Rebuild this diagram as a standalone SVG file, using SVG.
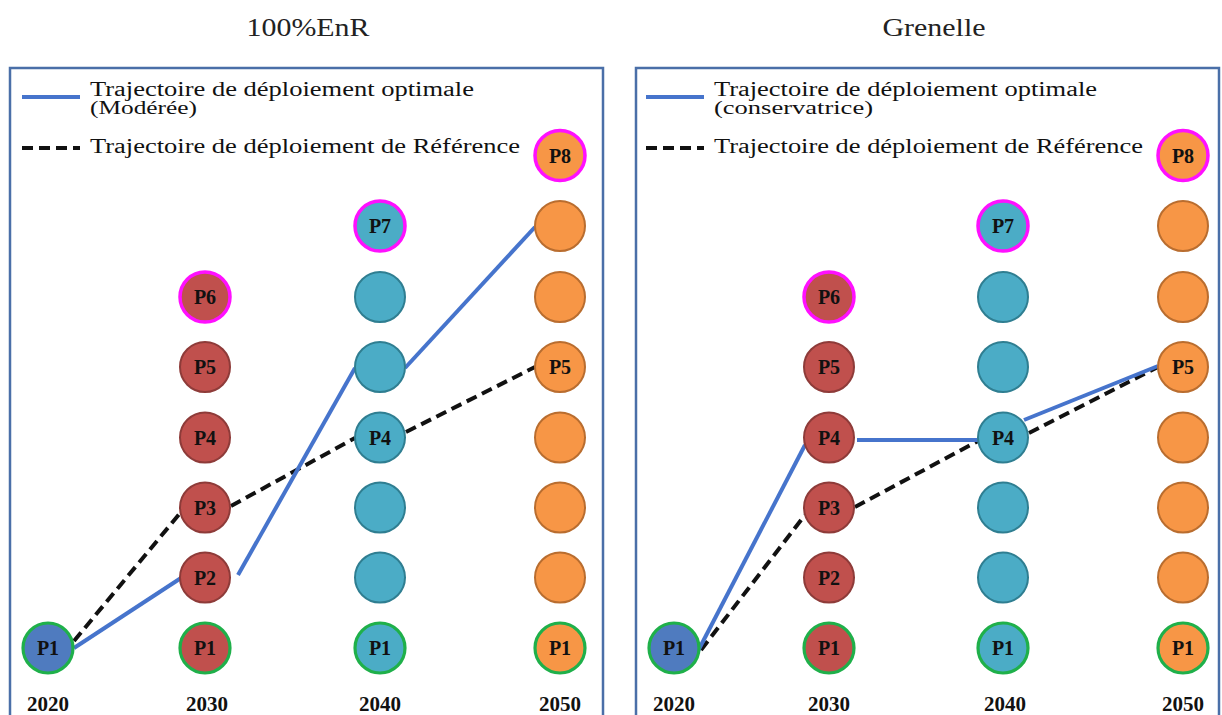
<svg xmlns="http://www.w3.org/2000/svg" width="1222" height="715" viewBox="0 0 1222 715">
<style>
.title{font-family:"Liberation Serif","DejaVu Serif",serif;font-size:25px;fill:#222;text-anchor:middle}
.leg{font-family:"Liberation Serif","DejaVu Serif",serif;font-size:20px;fill:#111}
.leg2{font-family:"Liberation Serif","DejaVu Serif",serif;font-size:18px;fill:#111}
.yr{font-family:"Liberation Serif","DejaVu Serif",serif;font-size:21px;font-weight:bold;fill:#111;text-anchor:middle}
.lbl{font-family:"Liberation Serif","DejaVu Serif",serif;font-size:20px;font-weight:bold;fill:#111;text-anchor:middle}
.panel{fill:#fff;stroke:#4a6fa8;stroke-width:2.5}
.blue{fill:#4f7bbf}
.red{fill:#c0504d;stroke:#8e3b39;stroke-width:2}
.teal{fill:#4bacc6;stroke:#2f7e91;stroke-width:2}
.orange{fill:#f79646;stroke:#b96d2f;stroke-width:2}
.g{stroke:#1fb04a;stroke-width:3.2}
.m{stroke:#ff10ff;stroke-width:3.5}
.opt{fill:none;stroke:#4674cc;stroke-width:4}
.ref{fill:none;stroke:#111;stroke-width:4;stroke-dasharray:11 6}
</style>

<text class="title" x="308" y="36" textLength="123" lengthAdjust="spacingAndGlyphs">100%EnR</text>
<text class="title" x="934" y="36" textLength="103" lengthAdjust="spacingAndGlyphs">Grenelle</text>

<rect class="panel" x="10" y="68" width="593" height="670"/>
<rect class="panel" x="636" y="68" width="583" height="670"/>

<g id="legend-left">
<line class="opt" x1="22" y1="97" x2="80" y2="97"/>
<text class="leg" x="90" y="96" textLength="384" lengthAdjust="spacingAndGlyphs">Trajectoire de déploiement optimale</text>
<text class="leg2" x="90" y="114" textLength="107" lengthAdjust="spacingAndGlyphs">(Modérée)</text>
<line class="ref" x1="22" y1="148" x2="80" y2="148" stroke-dasharray="13 5"/>
<text class="leg" x="90" y="153" textLength="430" lengthAdjust="spacingAndGlyphs">Trajectoire de déploiement de Référence</text>
</g>
<g id="legend-right">
<line class="opt" x1="646" y1="97" x2="704" y2="97"/>
<text class="leg" x="714" y="96" textLength="383" lengthAdjust="spacingAndGlyphs">Trajectoire de déploiement optimale</text>
<text class="leg2" x="714" y="114" textLength="159" lengthAdjust="spacingAndGlyphs">(conservatrice)</text>
<line class="ref" x1="646" y1="148" x2="704" y2="148" stroke-dasharray="13 5"/>
<text class="leg" x="714" y="153" textLength="429" lengthAdjust="spacingAndGlyphs">Trajectoire de déploiement de Référence</text>
</g>

<g id="connectors">
<polyline class="ref" points="74,641 181,512"/>
<polyline class="ref" points="231,506 355,438"/>
<polyline class="ref" points="406,432 535,367"/>
<polyline class="opt" points="74,648 181,578"/>
<polyline class="opt" points="238,575 355,368"/>
<polyline class="opt" points="405,368 535,227"/>

<polyline class="ref" points="701,650 805,515"/>
<polyline class="ref" points="855,507 978,441"/>
<polyline class="ref" points="1029,433 1158,367"/>
<polyline class="opt" points="698,651 805,445"/>
<polyline class="opt" points="857,440 978,440"/>
<polyline class="opt" points="1024,420 1158,366"/>
</g>

<!-- Left panel nodes -->
<g id="L2020-P1"><circle class="blue g" cx="48" cy="648" r="25"/><text class="lbl" x="48" y="655">P1</text></g>

<g id="L2030-P1"><circle class="red g" cx="205" cy="648" r="25"/><text class="lbl" x="205" y="655">P1</text></g>
<g id="L2030-P2"><circle class="red" cx="205" cy="577.5" r="25"/><text class="lbl" x="205" y="584.5">P2</text></g>
<g id="L2030-P3"><circle class="red" cx="205" cy="507.5" r="25"/><text class="lbl" x="205" y="514.5">P3</text></g>
<g id="L2030-P4"><circle class="red" cx="205" cy="437.5" r="25"/><text class="lbl" x="205" y="444.5">P4</text></g>
<g id="L2030-P5"><circle class="red" cx="205" cy="367" r="25"/><text class="lbl" x="205" y="374">P5</text></g>
<g id="L2030-P6"><circle class="red m" cx="205" cy="297" r="25"/><text class="lbl" x="205" y="304">P6</text></g>

<g id="L2040-P1"><circle class="teal g" cx="380" cy="648" r="25"/><text class="lbl" x="380" y="655">P1</text></g>
<g id="L2040-a"><circle class="teal" cx="380" cy="577.5" r="25"/></g>
<g id="L2040-b"><circle class="teal" cx="380" cy="507.5" r="25"/></g>
<g id="L2040-P4"><circle class="teal" cx="380" cy="437.5" r="25"/><text class="lbl" x="380" y="444.5">P4</text></g>
<g id="L2040-c"><circle class="teal" cx="380" cy="367" r="25"/></g>
<g id="L2040-d"><circle class="teal" cx="380" cy="297" r="25"/></g>
<g id="L2040-P7"><circle class="teal m" cx="380" cy="226" r="25"/><text class="lbl" x="380" y="233">P7</text></g>

<g id="L2050-P1"><circle class="orange g" cx="560" cy="648" r="25"/><text class="lbl" x="560" y="655">P1</text></g>
<g id="L2050-a"><circle class="orange" cx="560" cy="577.5" r="25"/></g>
<g id="L2050-b"><circle class="orange" cx="560" cy="507.5" r="25"/></g>
<g id="L2050-c"><circle class="orange" cx="560" cy="437.5" r="25"/></g>
<g id="L2050-P5"><circle class="orange" cx="560" cy="367" r="25"/><text class="lbl" x="560" y="374">P5</text></g>
<g id="L2050-d"><circle class="orange" cx="560" cy="297" r="25"/></g>
<g id="L2050-e"><circle class="orange" cx="560" cy="226" r="25"/></g>
<g id="L2050-P8"><circle class="orange m" cx="560" cy="155.5" r="25"/><text class="lbl" x="560" y="162.5">P8</text></g>

<!-- Right panel nodes -->
<g id="R2020-P1"><circle class="blue g" cx="674" cy="648" r="25"/><text class="lbl" x="674" y="655">P1</text></g>

<g id="R2030-P1"><circle class="red g" cx="829" cy="648" r="25"/><text class="lbl" x="829" y="655">P1</text></g>
<g id="R2030-P2"><circle class="red" cx="829" cy="577.5" r="25"/><text class="lbl" x="829" y="584.5">P2</text></g>
<g id="R2030-P3"><circle class="red" cx="829" cy="507.5" r="25"/><text class="lbl" x="829" y="514.5">P3</text></g>
<g id="R2030-P4"><circle class="red" cx="829" cy="437.5" r="25"/><text class="lbl" x="829" y="444.5">P4</text></g>
<g id="R2030-P5"><circle class="red" cx="829" cy="367" r="25"/><text class="lbl" x="829" y="374">P5</text></g>
<g id="R2030-P6"><circle class="red m" cx="829" cy="297" r="25"/><text class="lbl" x="829" y="304">P6</text></g>

<g id="R2040-P1"><circle class="teal g" cx="1003" cy="648" r="25"/><text class="lbl" x="1003" y="655">P1</text></g>
<g id="R2040-a"><circle class="teal" cx="1003" cy="577.5" r="25"/></g>
<g id="R2040-b"><circle class="teal" cx="1003" cy="507.5" r="25"/></g>
<g id="R2040-P4"><circle class="teal" cx="1003" cy="437.5" r="25"/><text class="lbl" x="1003" y="444.5">P4</text></g>
<g id="R2040-c"><circle class="teal" cx="1003" cy="367" r="25"/></g>
<g id="R2040-d"><circle class="teal" cx="1003" cy="297" r="25"/></g>
<g id="R2040-P7"><circle class="teal m" cx="1003" cy="226" r="25"/><text class="lbl" x="1003" y="233">P7</text></g>

<g id="R2050-P1"><circle class="orange g" cx="1183" cy="648" r="25"/><text class="lbl" x="1183" y="655">P1</text></g>
<g id="R2050-a"><circle class="orange" cx="1183" cy="577.5" r="25"/></g>
<g id="R2050-b"><circle class="orange" cx="1183" cy="507.5" r="25"/></g>
<g id="R2050-c"><circle class="orange" cx="1183" cy="437.5" r="25"/></g>
<g id="R2050-P5"><circle class="orange" cx="1183" cy="367" r="25"/><text class="lbl" x="1183" y="374">P5</text></g>
<g id="R2050-d"><circle class="orange" cx="1183" cy="297" r="25"/></g>
<g id="R2050-e"><circle class="orange" cx="1183" cy="226" r="25"/></g>
<g id="R2050-P8"><circle class="orange m" cx="1183" cy="155.5" r="25"/><text class="lbl" x="1183" y="162.5">P8</text></g>

<g id="years">
<text class="yr" x="48" y="711">2020</text>
<text class="yr" x="207" y="711">2030</text>
<text class="yr" x="380" y="711">2040</text>
<text class="yr" x="560" y="711">2050</text>
<text class="yr" x="674" y="711">2020</text>
<text class="yr" x="829" y="711">2030</text>
<text class="yr" x="1005" y="711">2040</text>
<text class="yr" x="1183" y="711">2050</text>
</g>
</svg>
